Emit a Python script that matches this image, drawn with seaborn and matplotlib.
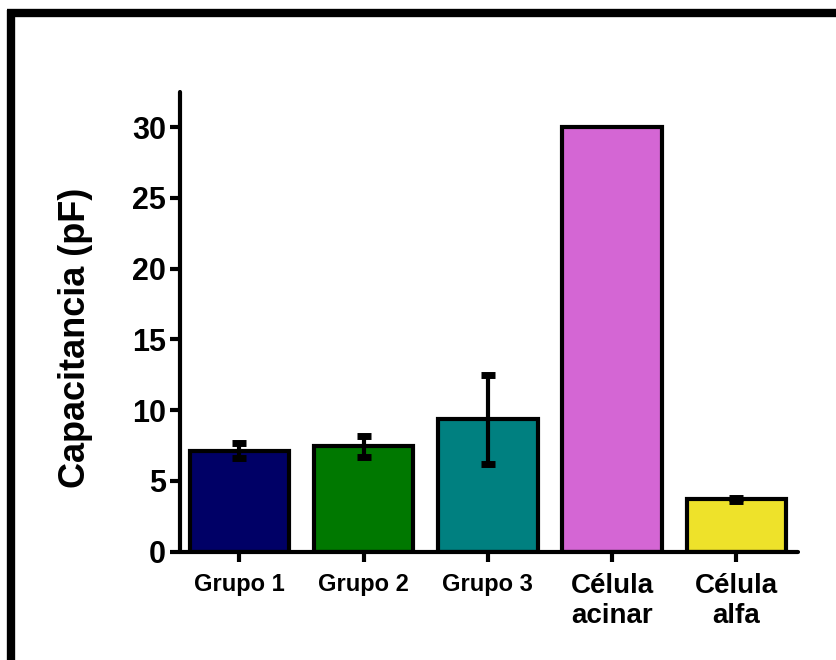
import numpy as np
import pandas as pd
import seaborn as sns
import matplotlib.pyplot as plt
from matplotlib.lines import Line2D

# values
grupos = ["Grupo 1", "Grupo 2", "Grupo 3", "Célula\nacinar", "Célula\nalfa"]
capacitancia = [7.15, 7.45, 9.35, 30.0, 3.7]
error = [0.5, 0.75, 3.15, np.nan, 0.12]
colores = ["#000066", "#007800", "#008080", "#D466D4", "#EEE22A"]

sns.set_style("ticks")
plt.rcParams["font.family"] = ["Liberation Sans", "DejaVu Sans"]
plt.rcParams["font.weight"] = "bold"
plt.rcParams["text.color"] = "black"
plt.rcParams["axes.labelcolor"] = "black"
plt.rcParams["xtick.color"] = "black"
plt.rcParams["ytick.color"] = "black"

df = pd.DataFrame({"grupo": grupos, "cap": capacitancia})

fig = plt.figure(figsize=(8.36, 6.6), dpi=100)
ax = fig.add_axes([0.215, 0.164, 0.74, 0.697])

sns.barplot(data=df, x="grupo", y="cap", hue="grupo", palette=colores,
            legend=False, errorbar=None, width=0.8, saturation=1,
            edgecolor="black", linewidth=3, ax=ax)
ok = ~np.isnan(error)
ax.errorbar(np.arange(len(grupos))[ok], np.array(capacitancia)[ok],
            yerr=np.array(error)[ok], fmt="none",
            ecolor="black", elinewidth=3, capsize=5, capthick=5, zorder=5)

ax.set_ylim(0, 32.5)
ax.set_xlim(-0.48, 4.5)
ax.set_yticks([0, 5, 10, 15, 20, 25, 30])
ax.set_xlabel("")
ax.set_ylabel("Capacitancia (pF)", fontsize=26, fontweight="bold", color="black")
ax.yaxis.set_label_coords(-0.14, 0.465)

for s in ["top", "right"]:
    ax.spines[s].set_visible(False)
for s in ["left", "bottom"]:
    ax.spines[s].set_linewidth(3)
    ax.spines[s].set_color("black")
    ax.spines[s].set_capstyle("round")

ax.tick_params(axis="both", width=3, length=7, color="black", labelcolor="black")
ax.tick_params(axis="y", labelsize=22, pad=3)
ax.tick_params(axis="x", pad=8)
for lab in ax.get_xticklabels():
    lab.set_fontweight("bold")
    lab.set_fontsize(17 if lab.get_text().startswith("Grupo") else 20)
for lab in ax.get_yticklabels():
    lab.set_fontweight("bold")

# frame around the picture (top and left edges only)
fig.add_artist(Line2D([0.008, 1.0], [0.981, 0.981], color="black", lw=6,
                      transform=fig.transFigure, solid_capstyle="butt"))
fig.add_artist(Line2D([0.013, 0.013], [0.0, 0.985], color="black", lw=6,
                      transform=fig.transFigure, solid_capstyle="butt"))

fig.savefig("out.png", dpi=100)
